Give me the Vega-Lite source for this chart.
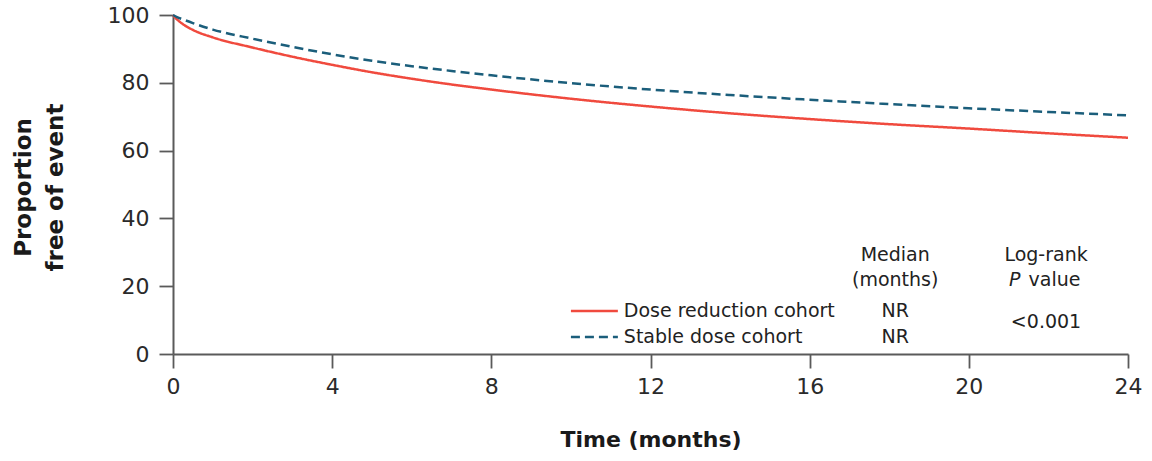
{
  "$schema": "https://vega.github.io/schema/vega-lite/v6.json",
  "width": 955,
  "height": 339,
  "autosize": {"type": "none"},
  "padding": {"left": 173, "top": 15, "right": 24, "bottom": 107},
  "background": "white",
  "config": {
    "view": {"stroke": null},
    "font": "DejaVu Sans",
    "axis": {
      "grid": false,
      "domainColor": "#5a5a5a",
      "domainWidth": 2,
      "tickColor": "#5a5a5a",
      "tickWidth": 1.8,
      "tickSize": 14,
      "labelFont": "DejaVu Sans",
      "labelFontSize": 22,
      "labelColor": "#2a2a2a",
      "titleFont": "DejaVu Sans",
      "titleFontSize": 22,
      "titleFontWeight": "bold",
      "titleColor": "#1a1a1a"
    }
  },
  "datasets": {
    "curves": [
      {"month": 0, "value": 100, "cohort": "Dose reduction cohort"},
      {"month": 0.1, "value": 98.7, "cohort": "Dose reduction cohort"},
      {"month": 0.25, "value": 97.3, "cohort": "Dose reduction cohort"},
      {"month": 0.5, "value": 95.6, "cohort": "Dose reduction cohort"},
      {"month": 1, "value": 93.4, "cohort": "Dose reduction cohort"},
      {"month": 2, "value": 90.4, "cohort": "Dose reduction cohort"},
      {"month": 3, "value": 87.7, "cohort": "Dose reduction cohort"},
      {"month": 4, "value": 85.3, "cohort": "Dose reduction cohort"},
      {"month": 5, "value": 83.1, "cohort": "Dose reduction cohort"},
      {"month": 6, "value": 81.2, "cohort": "Dose reduction cohort"},
      {"month": 7, "value": 79.5, "cohort": "Dose reduction cohort"},
      {"month": 8, "value": 78.0, "cohort": "Dose reduction cohort"},
      {"month": 10, "value": 75.3, "cohort": "Dose reduction cohort"},
      {"month": 12, "value": 73.0, "cohort": "Dose reduction cohort"},
      {"month": 14, "value": 71.0, "cohort": "Dose reduction cohort"},
      {"month": 16, "value": 69.3, "cohort": "Dose reduction cohort"},
      {"month": 18, "value": 67.8, "cohort": "Dose reduction cohort"},
      {"month": 20, "value": 66.5, "cohort": "Dose reduction cohort"},
      {"month": 22, "value": 65.1, "cohort": "Dose reduction cohort"},
      {"month": 24, "value": 63.8, "cohort": "Dose reduction cohort"},
      {"month": 0, "value": 100, "cohort": "Stable dose cohort"},
      {"month": 0.1, "value": 99.4, "cohort": "Stable dose cohort"},
      {"month": 0.25, "value": 98.7, "cohort": "Stable dose cohort"},
      {"month": 0.5, "value": 97.6, "cohort": "Stable dose cohort"},
      {"month": 1, "value": 95.7, "cohort": "Stable dose cohort"},
      {"month": 2, "value": 93.0, "cohort": "Stable dose cohort"},
      {"month": 3, "value": 90.6, "cohort": "Stable dose cohort"},
      {"month": 4, "value": 88.4, "cohort": "Stable dose cohort"},
      {"month": 5, "value": 86.5, "cohort": "Stable dose cohort"},
      {"month": 6, "value": 84.9, "cohort": "Stable dose cohort"},
      {"month": 7, "value": 83.5, "cohort": "Stable dose cohort"},
      {"month": 8, "value": 82.2, "cohort": "Stable dose cohort"},
      {"month": 10, "value": 79.9, "cohort": "Stable dose cohort"},
      {"month": 12, "value": 78.0, "cohort": "Stable dose cohort"},
      {"month": 14, "value": 76.4, "cohort": "Stable dose cohort"},
      {"month": 16, "value": 75.0, "cohort": "Stable dose cohort"},
      {"month": 18, "value": 73.7, "cohort": "Stable dose cohort"},
      {"month": 20, "value": 72.5, "cohort": "Stable dose cohort"},
      {"month": 22, "value": 71.4, "cohort": "Stable dose cohort"},
      {"month": 24, "value": 70.4, "cohort": "Stable dose cohort"}
    ],
    "legendLines": [
      {"cohort": "Dose reduction cohort", "month": 10.0, "end": 11.18, "value": 12.7},
      {"cohort": "Stable dose cohort", "month": 10.0, "end": 11.18, "value": 5.0}
    ],
    "centerText": [
      {"month": 18.15, "value": 29.2, "label": "Median"},
      {"month": 18.15, "value": 21.8, "label": "(months)"},
      {"month": 18.15, "value": 12.6, "label": "NR"},
      {"month": 18.15, "value": 5.0, "label": "NR"},
      {"month": 21.94, "value": 29.2, "label": "Log-rank"},
      {"month": 21.94, "value": 9.4, "label": "<0.001"}
    ],
    "leftText": [
      {"month": 11.33, "value": 12.6, "label": "Dose reduction cohort"},
      {"month": 11.33, "value": 5.0, "label": "Stable dose cohort"},
      {"month": 21.5, "value": 21.8, "label": "value"}
    ],
    "italicText": [
      {"month": 21.3, "value": 21.8, "label": "P"}
    ]
  },
  "layer": [
    {
      "data": {"name": "curves"},
      "mark": {"type": "line", "strokeWidth": 2.5, "interpolate": "monotone"},
      "encoding": {
        "x": {
          "field": "month", "type": "quantitative",
          "scale": {"domain": [0, 24], "nice": false},
          "title": "Time (months)",
          "axis": {"values": [0, 4, 8, 12, 16, 20, 24], "labelPadding": 8, "titlePadding": 32, "labelFlush": false}
        },
        "y": {
          "field": "value", "type": "quantitative",
          "scale": {"domain": [0, 100], "nice": false},
          "title": ["Proportion", "free of event"],
          "axis": {"values": [0, 20, 40, 60, 80, 100], "labelPadding": 10, "titleAngle": -90, "titleAlign": "center", "titleBaseline": "middle", "titleFontSize": 23, "titleLineHeight": 32, "titleX": -150, "titleY": 172, "labelFlush": false}
        },
        "color": {
          "field": "cohort", "type": "nominal",
          "scale": {"domain": ["Dose reduction cohort", "Stable dose cohort"], "range": ["#f04a3e", "#1b5e7b"]},
          "legend": null
        },
        "strokeDash": {
          "field": "cohort", "type": "nominal",
          "scale": {"domain": ["Dose reduction cohort", "Stable dose cohort"], "range": [[1, 0], [9, 5]]},
          "legend": null
        }
      }
    },
    {
      "data": {"name": "legendLines"},
      "mark": {"type": "rule", "strokeWidth": 2.5},
      "encoding": {
        "x": {"field": "month", "type": "quantitative"},
        "x2": {"field": "end"},
        "y": {"field": "value", "type": "quantitative"},
        "color": {"field": "cohort", "type": "nominal", "legend": null},
        "strokeDash": {"field": "cohort", "type": "nominal", "legend": null}
      }
    },
    {
      "data": {"name": "centerText"},
      "mark": {"type": "text", "align": "center", "baseline": "middle", "fontSize": 19, "color": "#222222", "font": "DejaVu Sans"},
      "encoding": {
        "x": {"field": "month", "type": "quantitative"},
        "y": {"field": "value", "type": "quantitative"},
        "text": {"field": "label"}
      }
    },
    {
      "data": {"name": "leftText"},
      "mark": {"type": "text", "align": "left", "baseline": "middle", "fontSize": 19, "color": "#222222", "font": "DejaVu Sans"},
      "encoding": {
        "x": {"field": "month", "type": "quantitative"},
        "y": {"field": "value", "type": "quantitative"},
        "text": {"field": "label"}
      }
    },
    {
      "data": {"name": "italicText"},
      "mark": {"type": "text", "align": "right", "baseline": "middle", "fontSize": 19, "fontStyle": "italic", "color": "#222222", "font": "DejaVu Sans"},
      "encoding": {
        "x": {"field": "month", "type": "quantitative"},
        "y": {"field": "value", "type": "quantitative"},
        "text": {"field": "label"}
      }
    }
  ]
}
